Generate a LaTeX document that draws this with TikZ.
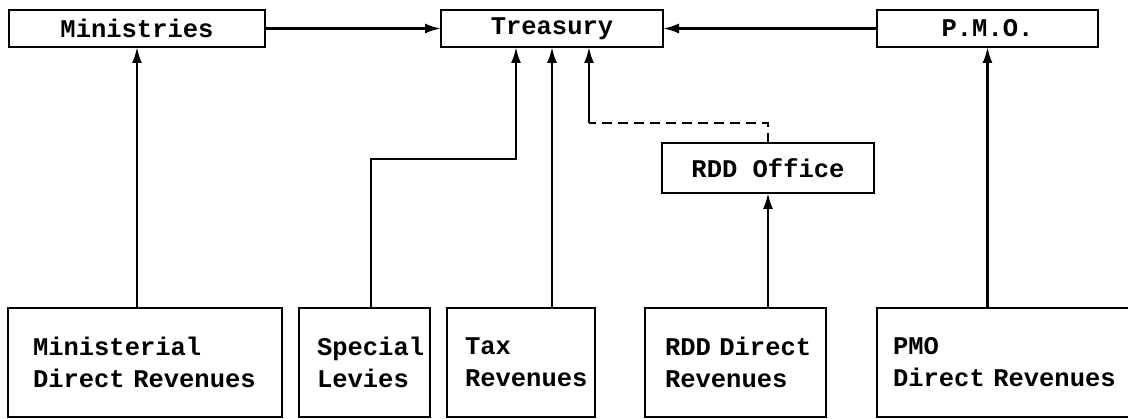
\documentclass[tikz,border=0pt]{standalone}
\usepackage{fontspec}
\newfontfamily\typewriter{Liberation Mono}[HyphenChar=None]
\usetikzlibrary{arrows.meta}
\begin{document}
\begin{tikzpicture}[x=1pt,y=-1pt,
  every node/.style={outer sep=0pt},
  box/.style={draw, line width=2pt, inner sep=0pt,
    font=\typewriter\bfseries\fontsize{25.5}{32}\selectfont},
  head/.style={box, minimum height=37pt},
  src/.style={box, anchor=north west, minimum height=109pt, align=left},
  link/.style={line width=2.4pt},
  arr/.style={link, -{Latex[length=16pt,width=10pt]}},
  dashlink/.style={link, dash pattern=on 10pt off 6pt},
  ]
\useasboundingbox (0,0) rectangle (1128,419);

% receiving offices
\node[head, minimum width=256pt] (min) at (137,28.5) {Ministries};
\node[head, minimum width=222pt] (tre) at (552,28.5) {Treasury};
\node[head, minimum width=221pt] (pmo) at (987.5,28.5) {P.M.O.};
\node[head, minimum width=212pt, minimum height=50pt] (off) at (768,168) {RDD Office};

% revenue sources
\node[src, inner xsep=25pt, text width=224pt] (mdr) at (8,308) {Ministerial\\Direct~Revenues};
\node[src, inner xsep=18pt, text width=95pt] (spl) at (299,308) {Special\\Levies};
\node[src, inner xsep=18pt, text width=112pt] (tax) at (447,308) {Tax\\Revenues};
\node[src, inner xsep=20pt, text width=141pt] (rdd) at (645,308) {RDD~Direct\\Revenues};
\node[src, inner xsep=16pt, text width=226pt] (pmd) at (877,308) {PMO\\Direct~Revenues};

% flows
\draw[arr] (min.east) -- (tre.west);
\draw[arr] (pmo.west) -- (tre.east);
\draw[arr] (min.south |- mdr.north) -- (min.south);
\coordinate (slbend) at (516,159);
\draw[arr] ([xshift=6.5pt]spl.north) |- (slbend) -- (slbend |- tre.south);
\draw[arr] (tre.south |- tax.north) -- (tre.south);
\draw[arr] (off.south |- rdd.north) -- (off.south);
\coordinate (rddbend) at (589,123);
\draw[dashlink] (off.north) |- (rddbend);
\draw[arr] (rddbend) -- (rddbend |- tre.south);
\draw[arr] (pmo.south |- pmd.north) -- (pmo.south);
\end{tikzpicture}
\end{document}
